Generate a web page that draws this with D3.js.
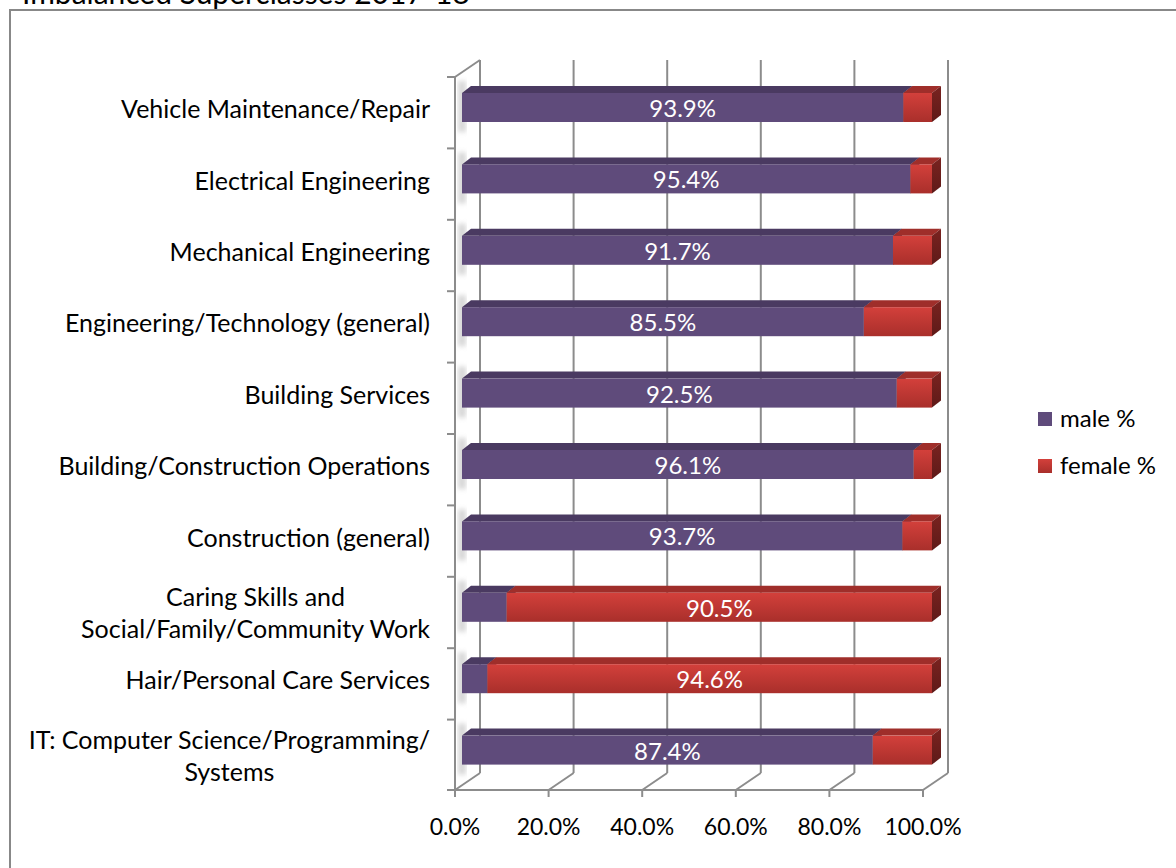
<!DOCTYPE html>
<html>
<head>
<meta charset="utf-8">
<script src="https://cdn.jsdelivr.net/npm/d3@7"></script>
<style>
  body { margin: 0; background: #fff; }
  text { font-family: Lato, "Open Sans", sans-serif; }
</style>
</head>
<body>
<div id="chart"></div>
<script>
// data, top to bottom as drawn
var categories = [
  "Vehicle Maintenance/Repair",
  "Electrical Engineering",
  "Mechanical Engineering",
  "Engineering/Technology (general)",
  "Building Services",
  "Building/Construction Operations",
  "Construction (general)",
  "Caring Skills and\nSocial/Family/Community Work",
  "Hair/Personal Care Services",
  "IT: Computer Science/Programming/\nSystems"
];
var male = [93.9, 95.4, 91.7, 85.5, 92.5, 96.1, 93.7, 9.5, 5.4, 87.4];
var female = [6.1, 4.6, 8.3, 14.5, 7.5, 3.9, 6.3, 90.5, 94.6, 12.6];
var tickValues = [0, 20, 40, 60, 80, 100];
var seriesNames = ["male %", "female %"];

var width = 1176, height = 868;
var gridColor = "#8c8c8c";

var svg = d3.select("#chart").append("svg")
    .attr("width", width)
    .attr("height", height);

var defs = svg.append("defs");
var redGrad = defs.append("linearGradient").attr("id", "redFront")
    .attr("x1", 0).attr("y1", 0).attr("x2", 0).attr("y2", 1);
redGrad.append("stop").attr("offset", "0%").attr("stop-color", "#d3403b");
redGrad.append("stop").attr("offset", "100%").attr("stop-color", "#a92f2b");
var sideGrad = defs.append("linearGradient").attr("id", "redSide")
    .attr("x1", 0).attr("y1", 0).attr("x2", 0).attr("y2", 1);
sideGrad.append("stop").attr("offset", "0%").attr("stop-color", "#7a2320");
sideGrad.append("stop").attr("offset", "100%").attr("stop-color", "#5e1a18");
defs.append("filter").attr("id", "blur")
  .append("feGaussianBlur").attr("stdDeviation", 2.5);

// chart border (runs off the right / bottom of the picture)
svg.append("rect")
    .attr("x", 10).attr("y", 10)
    .attr("width", width + 20).attr("height", height + 20)
    .attr("fill", "none").attr("stroke", "#888").attr("stroke-width", 2);

// title, mostly cut off at the top like the original
svg.append("text")
    .attr("x", 22).attr("y", 4)
    .attr("font-size", 30)
    .attr("fill", "#000")
    .text("Imbalanced Superclasses 2017-18");

// 3d frame
var depthX = 25, depthY = 17;
var floorY = 790, wallTop = 77;

var xFront = d3.scaleLinear().domain([0, 100]).range([455, 923]);
var xBar = d3.scaleLinear().domain([0, 100]).range([462, 932]);
var y = d3.scaleBand().domain(categories).range([wallTop, floorY + 1]);

var frame = svg.append("g").attr("stroke", gridColor).attr("stroke-width", 2).attr("fill", "none");

// back wall gridlines
frame.selectAll("line.grid").data(tickValues).enter().append("line")
    .attr("class", "grid")
    .attr("x1", function(d) { return xFront(d) + depthX; })
    .attr("x2", function(d) { return xFront(d) + depthX; })
    .attr("y1", wallTop - depthY)
    .attr("y2", floorY - depthY);

// floor diagonals
frame.selectAll("line.floor").data(tickValues).enter().append("line")
    .attr("class", "floor")
    .attr("x1", function(d) { return xFront(d); })
    .attr("y1", floorY)
    .attr("x2", function(d) { return xFront(d) + depthX; })
    .attr("y2", floorY - depthY);

// floor front edge + ticks
frame.append("line")
    .attr("x1", xFront(0)).attr("x2", xFront(100))
    .attr("y1", floorY).attr("y2", floorY);
frame.selectAll("line.xtick").data(tickValues).enter().append("line")
    .attr("x1", function(d) { return xFront(d); })
    .attr("x2", function(d) { return xFront(d); })
    .attr("y1", floorY).attr("y2", floorY + 7);

// left wall
frame.append("line")
    .attr("x1", xFront(0)).attr("x2", xFront(0))
    .attr("y1", wallTop).attr("y2", floorY);
frame.append("line")
    .attr("x1", xFront(0)).attr("y1", wallTop)
    .attr("x2", xFront(0) + depthX).attr("y2", wallTop - depthY);
var bandEdges = categories.map(function(c) { return y(c); }).concat([floorY]);
frame.selectAll("line.ytick").data(bandEdges).enter().append("line")
    .attr("x1", xFront(0) - 8).attr("x2", xFront(0))
    .attr("y1", function(d) { return d; })
    .attr("y2", function(d) { return d; });

// bars
var faceOff = 16, faceH = 29, bdx = 9, bdy = 7;
var colors = {
  male: { front: "#5f4b7b", top: "#4a3a61", side: "#3d3050" },
  female: { front: "url(#redFront)", top: "#9f2e2a", side: "url(#redSide)" }
};

function block(g, x0, x1, yt, c) {
  g.append("path")
      .attr("d", "M" + x0 + "," + yt + "L" + x1 + "," + yt + "L" + (x1 + bdx) + "," + (yt - bdy) +
                 "L" + (x0 + bdx) + "," + (yt - bdy) + "Z")
      .attr("fill", c.top);
  g.append("rect")
      .attr("x", x0).attr("y", yt)
      .attr("width", Math.max(0, x1 - x0)).attr("height", faceH)
      .attr("fill", c.front);
  g.append("path")
      .attr("d", "M" + x1 + "," + yt + "L" + (x1 + bdx) + "," + (yt - bdy) + "L" + (x1 + bdx) + "," +
                 (yt + faceH - bdy) + "L" + x1 + "," + (yt + faceH) + "Z")
      .attr("fill", c.side);
}

var bars = svg.append("g");
categories.forEach(function(cat, i) {
  var yt = y(cat) + faceOff;
  var g = bars.append("g");
  // soft shadow on the left wall
  g.append("rect")
      .attr("x", xBar(0) - 4).attr("y", yt - 12)
      .attr("width", 8).attr("height", faceH + 22)
      .attr("fill", "#bbb").attr("opacity", 0.6)
      .attr("filter", "url(#blur)");
  block(g, xBar(0), xBar(male[i]), yt, colors.male);
  block(g, xBar(male[i]), xBar(male[i] + female[i]), yt, colors.female);

  // label only the larger share
  var lab = male[i] >= female[i]
      ? { v: male[i], cx: (xBar(0) + xBar(male[i])) / 2 }
      : { v: female[i], cx: (xBar(male[i]) + xBar(male[i] + female[i])) / 2 };
  g.append("text")
      .attr("x", lab.cx).attr("y", yt + faceH / 2 + 1)
      .attr("dy", "0.35em")
      .attr("text-anchor", "middle")
      .attr("font-size", 24)
      .attr("fill", "#fff")
      .text(d3.format(".1f")(lab.v) + "%");
});

// category labels
var labels = svg.append("g").attr("font-size", 25).attr("fill", "#000");
categories.forEach(function(cat) {
  var c = y(cat) + faceOff + faceH / 2 + 2;
  var lines = cat.split("\n");
  if (lines.length === 1) {
    labels.append("text")
        .attr("x", 430).attr("y", c).attr("dy", "0.35em")
        .attr("text-anchor", "end")
        .text(cat);
  } else {
    var ts = lines.map(function(l, k) {
      return labels.append("text")
          .attr("y", c - 12 + k * 32).attr("dy", "0.35em")
          .attr("text-anchor", "middle")
          .text(l);
    });
    var maxW = d3.max(ts, function(t) { return t.node().getComputedTextLength(); });
    ts.forEach(function(t) { t.attr("x", 430 - maxW / 2); });
  }
});

// x axis labels
svg.append("g").selectAll("text").data(tickValues).enter().append("text")
    .attr("x", function(d) { return xFront(d); })
    .attr("y", 827).attr("dy", "0.35em")
    .attr("text-anchor", "middle")
    .attr("font-size", 23)
    .attr("fill", "#000")
    .text(function(d) { return d3.format(".1f")(d) + "%"; });

// legend
var legend = svg.append("g").attr("font-size", 24).attr("fill", "#000");
var legendFill = ["#5f4b7b", "url(#redFront)"];
seriesNames.forEach(function(name, k) {
  var ly = 412 + k * 47;
  legend.append("rect")
      .attr("x", 1038).attr("y", ly)
      .attr("width", 14).attr("height", 14)
      .attr("fill", legendFill[k]);
  legend.append("text")
      .attr("x", 1060).attr("y", ly + 7).attr("dy", "0.35em")
      .text(name);
});
</script>
</body>
</html>
